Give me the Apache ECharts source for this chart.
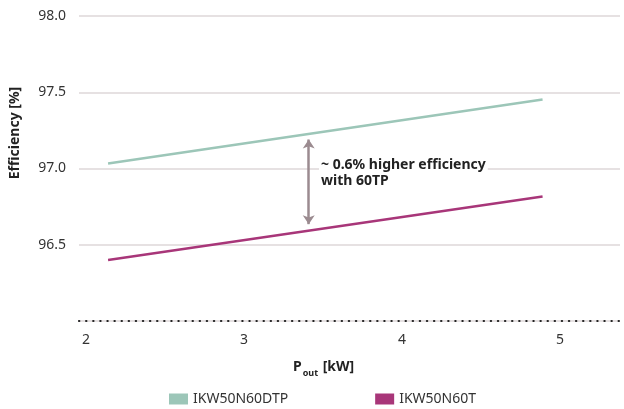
<!DOCTYPE html>
<html>
<head>
<meta charset="utf-8">
<script src="https://cdn.jsdelivr.net/npm/echarts@6/dist/echarts.min.js"></script>
<style>
  html, body { margin: 0; padding: 0; background: #fff; }
  #chart { width: 624px; height: 409px; }
</style>
</head>
<body>
<div id="chart"></div>
<script>
// data
const seriesNames = ['IKW50N60DTP', 'IKW50N60T'];
const powerKw = [2.14, 4.89];
const effDtp = [97.033, 97.452];
const effT = [96.40, 96.816];
const xTicks = [2, 3, 4, 5];
const arrowX = 3.41;
const arrowY = [97.19, 96.635];
const noteAt = [3.475, 96.97];
const noteText = '~ 0.6% higher efficiency\nwith 60TP';

const FONT = '"Noto Sans", sans-serif';
const GREEN = '#9cc6b8';
const PURPLE = '#a83679';
const ARROW = '#9b8b90';

const chart = echarts.init(document.getElementById('chart'), null, { renderer: 'canvas' });

function pairs(xs, ys) {
  return xs.map((x, i) => [x, ys[i]]);
}

const option = {
  animation: false,
  textStyle: { fontFamily: FONT },
  grid: { left: 79, right: 4, top: 16, bottom: 88 },
  xAxis: {
    type: 'value',
    min: 1.956,
    max: 5.38,
    axisLine: { show: true, lineStyle: { color: '#222', type: [0.3, 6.8], width: 2.2, cap: 'round' } },
    axisTick: { show: false },
    splitLine: { show: false },
    axisLabel: {
      customValues: xTicks,
      color: '#333',
      fontSize: 14,
      fontFamily: FONT,
      margin: 12
    }
  },
  yAxis: {
    type: 'value',
    min: 96,
    max: 98,
    interval: 0.5,
    axisLine: { show: false },
    axisTick: { show: false },
    splitLine: { lineStyle: { color: '#e6e1e2', width: 2 } },
    axisLabel: {
      color: '#333',
      fontSize: 14,
      fontFamily: FONT,
      margin: 13,
      formatter: v => (v === 96 ? '' : v.toFixed(1))
    }
  },
  legend: {
    left: 164,
    top: 387,
    itemWidth: 19,
    itemHeight: 11,
    itemGap: 87,
    icon: 'rect',
    textStyle: { color: '#333', fontSize: 14, fontFamily: FONT, padding: [0, 0, 0, 0] },
    data: seriesNames
  },
  graphic: [
    {
      type: 'text',
      x: 15,
      y: 133,
      rotation: Math.PI / 2,
      style: {
        text: 'Efficiency [%]',
        font: 'bold 14px ' + FONT,
        fill: '#222',
        align: 'center',
        verticalAlign: 'middle'
      }
    },
    {
      type: 'text',
      left: 293,
      top: 360,
      style: {
        text: '{p|P}{s|out}{p| [kW]}',
        rich: {
          p: { font: 'bold 14px ' + FONT, fill: '#222', verticalAlign: 'bottom' },
          s: { font: 'bold 9px ' + FONT, fill: '#222', padding: [0, 1, -4, 1], verticalAlign: 'bottom' }
        }
      }
    }
  ],
  series: [
    {
      name: seriesNames[0],
      type: 'line',
      data: pairs(powerKw, effDtp),
      showSymbol: false,
      lineStyle: { color: GREEN, width: 2.5 },
      itemStyle: { color: GREEN },
      z: 3
    },
    {
      name: seriesNames[1],
      type: 'line',
      data: pairs(powerKw, effT),
      showSymbol: false,
      lineStyle: { color: PURPLE, width: 2.5 },
      itemStyle: { color: PURPLE },
      z: 3,
      markLine: {
        silent: true,
        symbol: ['arrow', 'arrow'],
        symbolSize: [9, 9],
        label: { show: false },
        lineStyle: { color: ARROW, width: 2.5, type: 'solid' },
        data: [[{ coord: [arrowX, arrowY[0]] }, { coord: [arrowX, arrowY[1]] }]]
      },
      markPoint: {
        silent: true,
        symbol: 'circle',
        symbolSize: 0,
        data: [{ coord: noteAt }],
        label: {
          show: true,
          position: 'right',
          distance: 0,
          formatter: noteText,
          color: '#222',
          fontSize: 14,
          fontWeight: 'bold',
          fontFamily: FONT,
          lineHeight: 16,
          align: 'left',
          backgroundColor: '#fff',
          padding: [1, 2, 1, 2]
        }
      }
    }
  ]
};

chart.setOption(option);
</script>
</body>
</html>
